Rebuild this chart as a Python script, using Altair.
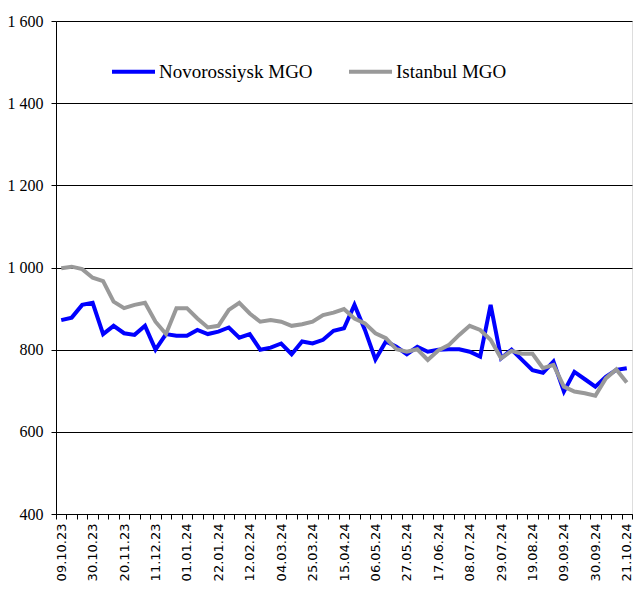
import altair as alt
import pandas as pd

weeks = [d.strftime("%d.%m.%y") for d in pd.date_range("2023-10-09", periods=55, freq="7D")]

shown_labels = ["09.10.23", "30.10.23", "20.11.23", "11.12.23", "01.01.24", "22.01.24",
                "12.02.24", "04.03.24", "25.03.24", "15.04.24", "06.05.24", "27.05.24",
                "17.06.24", "08.07.24", "29.07.24", "19.08.24", "09.09.24", "30.09.24",
                "21.10.24"]

novorossiysk = [872, 878, 909, 914, 838, 858, 840, 836, 858, 800,
                838, 834, 834, 848, 838, 844, 854, 829, 838, 800,
                805, 815, 789, 820, 815, 824, 846, 852, 909, 848,
                776, 820, 807, 789, 807, 795, 800, 801, 801, 795,
                783, 909, 779, 800, 775, 750, 744, 771, 698, 746,
                728, 710, 734, 751, 755]

istanbul = [998, 1002, 996, 975, 967, 917, 901, 909, 914, 868,
            838, 901, 901, 876, 854, 858, 897, 914, 888, 868,
            872, 868, 858, 862, 868, 884, 890, 899, 876, 864,
            840, 828, 801, 795, 801, 775, 798, 811, 836, 858,
            848, 824, 779, 797, 790, 790, 755, 763, 710, 698,
            694, 688, 730, 752, 720]

series_names = ["Novorossiysk MGO", "Istanbul MGO"]
series_colors = ["#0000FF", "#999999"]

rows = []
for i, w in enumerate(weeks):
    rows.append({"week": w, "series": series_names[0], "value": novorossiysk[i], "order": 0})
    rows.append({"week": w, "series": series_names[1], "value": istanbul[i], "order": 1})
df = pd.DataFrame(rows)

label_list = "[" + ",".join("'" + s + "'" for s in shown_labels) + "]"
serif = "Liberation Serif, Times New Roman, serif"

chart = alt.Chart(df).mark_line(strokeWidth=4, strokeJoin="miter").encode(
    x=alt.X("week:O", sort=weeks,
            scale=alt.Scale(type="band", paddingInner=0, paddingOuter=0),
            axis=alt.Axis(title=None, tickBand="extent", grid=False,
                          labelAngle=270, labelFont="DejaVu Sans", labelFontSize=13,
                          labelColor="black", labelPadding=4,
                          tickColor="black", tickSize=5, domainColor="black",
                          labelExpr="indexof(" + label_list + ", datum.value) >= 0 ? datum.value : ''")),
    y=alt.Y("value:Q", scale=alt.Scale(domain=[400, 1600], nice=False, zero=False),
            axis=alt.Axis(title=None, values=[400, 600, 800, 1000, 1200, 1400, 1600],
                          labelExpr="replace(format(datum.value, ',d'), ',', ' ')",
                          labelFont=serif, labelFontSize=16, labelColor="black",
                          labelPadding=8, tickColor="black", tickSize=5,
                          domainColor="black", gridColor="black", gridWidth=1, gridOpacity=1)),
    color=alt.Color("series:N",
                    scale=alt.Scale(domain=series_names, range=series_colors),
                    legend=alt.Legend(title=None, orient="none", direction="horizontal",
                                      legendX=54, legendY=27, symbolType="stroke",
                                      symbolSize=1849, symbolStrokeWidth=4,
                                      labelFont=serif, labelFontSize=19,
                                      labelColor="black", labelOffset=2,
                                      columnPadding=28, padding=0)),
    detail="series:N",
    order=alt.Order("order:Q"),
).properties(
    width=576, height=493,
    padding={"left": 48, "top": 13, "right": 4, "bottom": 70},
    autosize=alt.AutoSizeParams(type="none"),
).configure_view(stroke=None).configure(background="white")

chart.save("out.html", embed_options={"renderer": "svg", "actions": False})
